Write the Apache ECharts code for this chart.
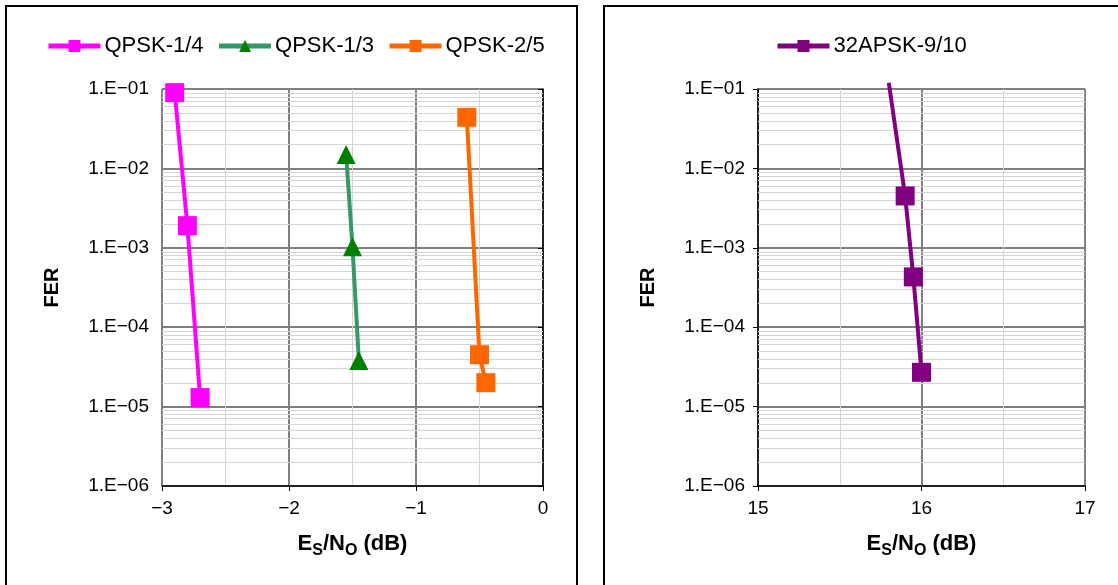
<!DOCTYPE html>
<html><head><meta charset="utf-8">
<script src="https://cdn.jsdelivr.net/npm/echarts@6/dist/echarts.min.js"></script>
<style>html,body{margin:0;padding:0;background:#fff}#c{width:1118px;height:585px}</style>
</head><body><div id="c"></div>
<script>
// Data (Es/No in dB, FER)
const q14X = [-2.9, -2.8, -2.7];
const q14Y = [0.09, 0.0019, 0.000013];
const q13X = [-1.55, -1.5, -1.45];
const q13Y = [0.015, 0.00103, 0.000038];
const q25X = [-0.6, -0.5, -0.45];
const q25Y = [0.044, 0.000045, 0.00002];
const a32X = [15.8, 15.9, 15.95, 16.0];
const a32Y = [0.12, 0.0045, 0.00043, 0.000027];
const names = ['QPSK-1/4', 'QPSK-1/3', 'QPSK-2/5', '32APSK-9/10'];
const yTicks = ['1.E\u221206','1.E\u221205','1.E\u221204','1.E\u221203','1.E\u221202','1.E\u221201'];

const font = 'Liberation Sans, Arial, sans-serif';
const yMin = 1e-6, yMax = 0.1;

function pairs(xs, ys, hideAbove) {
  return xs.map((x, i) => {
    const item = { value: [x, ys[i]] };
    if (hideAbove && ys[i] > yMax) item.symbolSize = 0;
    return item;
  });
}
// minor gridlines at 2..9 x 10^e, placed on a hidden log10-space value axis
function minorLines() {
  const out = [];
  for (let e = -6; e <= -2; e++) {
    for (let k = 2; k <= 9; k++) out.push({ yAxis: e + Math.log10(k) });
  }
  return out;
}
function yLabel(v) {
  const e = Math.round(Math.log10(v));
  const idx = e + 6;
  return yTicks[idx] !== undefined ? yTicks[idx] : '';
}
function xLabel(v) { return v < 0 ? '\u2212' + Math.abs(v) : String(v); }

const xName = '{b|E}{s|S}{b|/N}{s|O}{b| (dB)}';
const nameRich = {
  b: { fontFamily: font, fontWeight: 'bold', fontSize: 22, color: '#000', verticalAlign: 'top', lineHeight: 26 },
  s: { fontFamily: font, fontWeight: 'bold', fontSize: 16, color: '#000', verticalAlign: 'bottom', lineHeight: 26, padding: [9, 0, 0, 0] }
};

function makeX(idx, min, max) {
  return {
    gridIndex: idx, type: 'value', min: min, max: max, interval: 1,
    axisLine: { show: true, onZero: false, lineStyle: { color: '#000', width: 1.5 } },
    axisTick: { show: true, length: 5, lineStyle: { color: '#000' } },
    axisLabel: { fontFamily: font, fontSize: 19, color: '#000', margin: 13, formatter: xLabel },
    splitLine: { show: true, lineStyle: { color: '#808080', width: 2 } },
    minorTick: { show: false, splitNumber: 2 },
    minorSplitLine: { show: true, lineStyle: { color: '#d4d4d4', width: 1 } },
    name: xName, nameLocation: 'middle', nameGap: 47,
    nameTextStyle: { rich: nameRich }
  };
}
function makeY(idx) {
  return {
    gridIndex: idx, type: 'log', logBase: 10, min: yMin, max: yMax,
    axisLine: { show: true, lineStyle: { color: '#000', width: 1.5 } },
    axisTick: { show: true, length: 5, lineStyle: { color: '#000' } },
    axisLabel: { fontFamily: font, fontSize: 19, color: '#000', margin: 13, formatter: yLabel },
    splitLine: { show: true, lineStyle: { color: '#808080', width: 2 } },
    name: 'FER', nameLocation: 'middle', nameGap: 100, nameRotate: 90,
    nameTextStyle: { fontFamily: font, fontWeight: 'bold', fontSize: 20, color: '#000' }
  };
}
function makeHiddenY(idx) {
  return { gridIndex: idx, type: 'value', min: -6, max: -1, show: false,
           axisLine: { show: false }, splitLine: { show: false }, axisLabel: { show: false }, axisTick: { show: false } };
}
function gridSeries(gIdx, yIdx) {
  return {
    type: 'line', xAxisIndex: gIdx, yAxisIndex: yIdx, data: [], silent: true, z: 1,
    markLine: {
      silent: true, symbol: ['none', 'none'], z: 1, animation: false,
      label: { show: false },
      lineStyle: { color: '#d4d4d4', width: 1, type: 'solid' },
      emphasis: { disabled: true },
      data: minorLines()
    }
  };
}
function lineSeries(name, idx, xs, ys, lineColor, markColor, symbol, size) {
  return {
    name: name, type: 'line', xAxisIndex: idx, yAxisIndex: idx, z: 5,
    data: pairs(xs, ys, true), clip: false,
    symbol: symbol, symbolSize: size, showAllSymbol: true,
    lineStyle: { color: lineColor, width: 4 },
    itemStyle: { color: markColor, borderWidth: 0 },
    emphasis: { disabled: true }, animation: false
  };
}

const legendCommon = {
  itemWidth: 52, itemHeight: 15, itemGap: 13, top: 30,
  lineStyle: { width: 5 },
  textStyle: { fontFamily: font, fontSize: 22, color: '#000', padding: [0, 0, 0, -1] }
};

const chart = echarts.init(document.getElementById('c'), null, { renderer: 'canvas' });
chart.setOption({
  backgroundColor: '#fff',
  animation: false,
  graphic: [
    { type: 'rect', shape: { x: 6, y: 6, width: 571, height: 620 }, style: { fill: 'none', stroke: '#000', lineWidth: 2 }, z: 100 },
    { type: 'rect', shape: { x: 604, y: 6, width: 620, height: 620 }, style: { fill: 'none', stroke: '#000', lineWidth: 2 }, z: 100 }
  ],
  legend: [
    Object.assign({ data: names.slice(0, 3), left: 41 }, legendCommon),
    Object.assign({ data: names.slice(3), left: 770 }, legendCommon)
  ],
  grid: [
    { left: 162, top: 89, width: 381, height: 397 },
    { left: 758, top: 89, width: 327, height: 397 }
  ],
  xAxis: [makeX(0, -3, 0), makeX(1, 15, 17)],
  yAxis: [makeY(0), makeY(1), makeHiddenY(0), makeHiddenY(1)],
  series: [
    gridSeries(0, 2), gridSeries(1, 3),
    lineSeries(names[0], 0, q14X, q14Y, '#FF00FF', '#FF00FF', 'rect', 19),
    lineSeries(names[1], 0, q13X, q13Y, '#339966', '#008000', 'triangle', 19),
    lineSeries(names[2], 0, q25X, q25Y, '#FF6600', '#FF6600', 'rect', 19),
    lineSeries(names[3], 1, a32X, a32Y, '#800080', '#800080', 'rect', 19)
  ]
});
</script></body></html>
